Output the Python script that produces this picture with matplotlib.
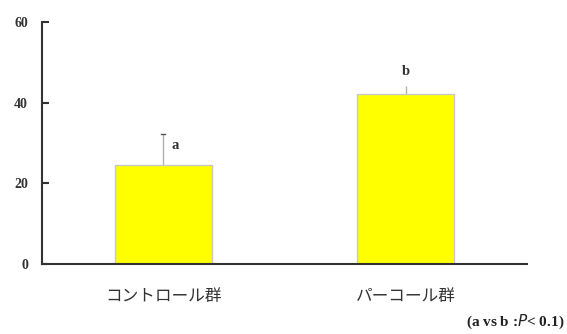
import matplotlib

matplotlib.use("Agg")
import matplotlib.pyplot as plt

categories = ["コントロール群", "パーコール群"]
means = [24.5, 42.2]
errors = [7.7, 2.0]
letters = ["a", "b"]
y_ticks = [0, 20, 40, 60]
note = "(a vs b :$P$< 0.1)"

plt.rcParams["font.family"] = ["Liberation Serif", "Noto Sans CJK JP"]


def main() -> None:
    fig = plt.figure(figsize=(5.67, 3.34), dpi=100)
    ax = fig.add_axes([42 / 567, 70 / 334, 485 / 567, 242 / 334])

    x = list(range(len(categories)))
    ax.bar(x, means, width=0.4, color="#ffff00", edgecolor="#c8c8c8", linewidth=1.0, zorder=2)
    ax.errorbar(x, means, yerr=[[0] * len(errors), errors], fmt="none",
                ecolor="#b0b0b0", elinewidth=1.0, capsize=0, zorder=1)
    # little dark cap on the first bar only
    ax.plot([x[0] - 0.008, x[0] + 0.008], [means[0] + errors[0]] * 2, color="#555555", lw=1.0)

    ax.text(x[0] + 0.035, means[0] + errors[0] - 2.7, letters[0], fontsize=10.5,
            fontweight="bold", ha="left", va="center", color="#333333")
    ax.text(x[1], means[1] + errors[1] + 3.5, letters[1], fontsize=10.5,
            fontweight="bold", ha="center", va="center", color="#333333")

    ax.set_xlim(-0.5, 1.5)
    ax.set_ylim(0, 60)
    ax.set_yticks(y_ticks)
    ax.set_yticklabels([str(t) for t in y_ticks], fontsize=10, fontweight="bold", color="#333333")
    ax.set_xticks(x)
    ax.set_xticklabels(categories, fontsize=12, family=["Noto Sans CJK JP"], color="#333333")
    ax.tick_params(axis="y", direction="in", length=5, width=1.5, pad=10, colors="#333333")
    ax.tick_params(axis="x", length=0, pad=17)
    for side in ("top", "right"):
        ax.spines[side].set_visible(False)
    ax.spines["left"].set_linewidth(1.5)
    ax.spines["bottom"].set_linewidth(1.5)
    ax.spines["left"].set_color("#333333")
    ax.spines["bottom"].set_color("#333333")

    fig.text(564 / 567, 1 - 322 / 334, note, fontsize=11, fontweight="bold",
             ha="right", va="center", color="#222222")

    fig.savefig("out.png", dpi=100)
    plt.close(fig)


if __name__ == "__main__":
    main()
